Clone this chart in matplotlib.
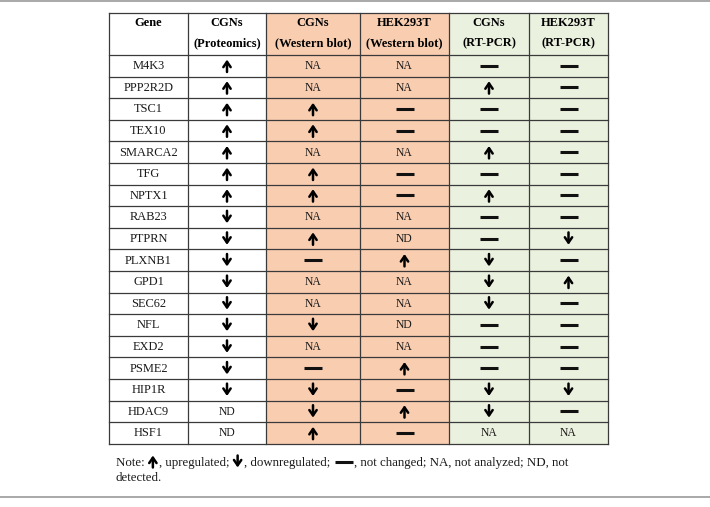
import matplotlib
matplotlib.use("Agg")
import matplotlib.pyplot as plt
from matplotlib.patches import Rectangle

# ---------------- data ----------------
genes = ['M4K3', 'PPP2R2D', 'TSC1', 'TEX10', 'SMARCA2', 'TFG', 'NPTX1', 'RAB23',
         'PTPRN', 'PLXNB1', 'GPD1', 'SEC62', 'NFL', 'EXD2', 'PSME2', 'HIP1R',
         'HDAC9', 'HSF1']
header_top = ['Gene', 'CGNs', 'CGNs', 'HEK293T', 'CGNs', 'HEK293T']
header_bot = ['', '(Proteomics)', '(Western blot)', '(Western blot)', '(RT-PCR)', '(RT-PCR)']
cgn_proteomics = ['up', 'up', 'up', 'up', 'up', 'up', 'up', 'down', 'down', 'down',
                  'down', 'down', 'down', 'down', 'down', 'down', 'ND', 'ND']
cgn_western = ['NA', 'NA', 'up', 'up', 'NA', 'up', 'up', 'NA', 'up', 'nc',
               'NA', 'NA', 'down', 'NA', 'nc', 'down', 'down', 'up']
hek_western = ['NA', 'NA', 'nc', 'nc', 'NA', 'nc', 'nc', 'NA', 'ND', 'up',
               'NA', 'NA', 'ND', 'NA', 'up', 'nc', 'up', 'nc']
cgn_rtpcr = ['nc', 'up', 'nc', 'nc', 'up', 'nc', 'up', 'nc', 'nc', 'down',
             'down', 'down', 'nc', 'nc', 'nc', 'down', 'down', 'NA']
hek_rtpcr = ['nc', 'nc', 'nc', 'nc', 'nc', 'nc', 'nc', 'nc', 'down', 'nc',
             'up', 'nc', 'nc', 'nc', 'nc', 'down', 'nc', 'NA']
columns = [genes, cgn_proteomics, cgn_western, hek_western, cgn_rtpcr, hek_rtpcr]
col_colors = ['white', 'white', '#F9CDB0', '#F9CDB0', '#EBF1DF', '#EBF1DF']
note_parts = ['Note: ', 'up', ', upregulated; ', 'down', ', downregulated; ', 'nc',
              ', not changed; NA, not analyzed; ND, not']
note_line2 = 'detected.'

# ---------------- layout ----------------
W, H = 710, 507
fig = plt.figure(figsize=(W / 100, H / 100), dpi=100)
ax = fig.add_axes([0, 0, 1, 1])
ax.set_xlim(0, W)
ax.set_ylim(H, 0)
ax.axis('off')

serif = 'Liberation Serif'
edges = [109, 188, 266, 360, 449, 529, 608]
top, head_h, row_h = 13, 42, 21.6
n = len(genes)
bottom = top + head_h + n * row_h
grid_c = '#3a3a3a'
txt_c = '#1a1a1a'

# page rules
ax.plot([0, W], [1, 1], color='#9a9a9a', lw=1.2)
ax.plot([0, W], [497, 497], color='#9a9a9a', lw=1.2)

# column backgrounds
for j in range(6):
    ax.add_patch(Rectangle((edges[j], top), edges[j + 1] - edges[j], bottom - top,
                           facecolor=col_colors[j], edgecolor='none', zorder=0))

# grid
for x in edges:
    ax.plot([x, x], [top, bottom], color=grid_c, lw=0.9, zorder=2)
ys = [top, top + head_h] + [top + head_h + (i + 1) * row_h for i in range(n)]
for y in ys:
    ax.plot([edges[0], edges[-1]], [y, y], color=grid_c, lw=0.9, zorder=2)


def draw_arrow(direction, cx, cy, half=6.2, lw=1.8):
    s = -1 if direction == 'up' else 1
    ax.annotate('', xy=(cx, cy + s * half), xytext=(cx, cy - s * half),
                arrowprops=dict(arrowstyle='->,head_length=0.32,head_width=0.22',
                                lw=lw, color='black', shrinkA=0, shrinkB=0,
                                mutation_scale=12), zorder=3)


def draw_symbol(code, cx, cy, fs=8.4):
    if code in ('up', 'down'):
        draw_arrow(code, cx, cy)
    elif code == 'nc':
        ax.plot([cx - 9, cx + 9], [cy, cy], color='#111111', lw=2.2,
                solid_capstyle='butt', zorder=3)
    else:
        ax.text(cx, cy + 0.5, code, ha='center', va='center', fontsize=fs,
                family=serif, color=txt_c, zorder=3)


# header
for j in range(6):
    cx = (edges[j] + edges[j + 1]) / 2
    ax.text(cx, top + 10.5, header_top[j], ha='center', va='center', fontsize=9,
            fontweight='bold', family=serif, zorder=3)
    if header_bot[j]:
        ax.text(cx, top + 30.5, header_bot[j], ha='center', va='center', fontsize=9,
                fontweight='bold', family=serif, zorder=3)

# body
for j, col in enumerate(columns):
    cx = (edges[j] + edges[j + 1]) / 2
    for i, v in enumerate(col):
        cy = top + head_h + (i + 0.5) * row_h
        if j == 0:
            ax.text(cx, cy + 0.5, v, ha='center', va='center', fontsize=8.9,
                    family=serif, color=txt_c, zorder=3)
        else:
            draw_symbol(v, cx, cy)

# note
fig.canvas.draw()
renderer = fig.canvas.get_renderer()
inv = ax.transData.inverted()
x = 116
y_note = 466
for part in note_parts:
    if part in ('up', 'down'):
        draw_arrow(part, x + 5, y_note - 4.5, half=6, lw=1.8)
        x += 11
    elif part == 'nc':
        ax.plot([x + 2, x + 20], [y_note - 4, y_note - 4], color='#111111', lw=2.2,
                solid_capstyle='butt')
        x += 21
    else:
        t = ax.text(x, y_note, part, ha='left', va='baseline', fontsize=9.3,
                    family=serif, color=txt_c)
        bb = t.get_window_extent(renderer=renderer)
        x = inv.transform((bb.x1, bb.y0))[0]
ax.text(116, y_note + 15, note_line2, ha='left', va='baseline', fontsize=9.3,
        family=serif, color=txt_c)

fig.savefig('out.png', dpi=100)
